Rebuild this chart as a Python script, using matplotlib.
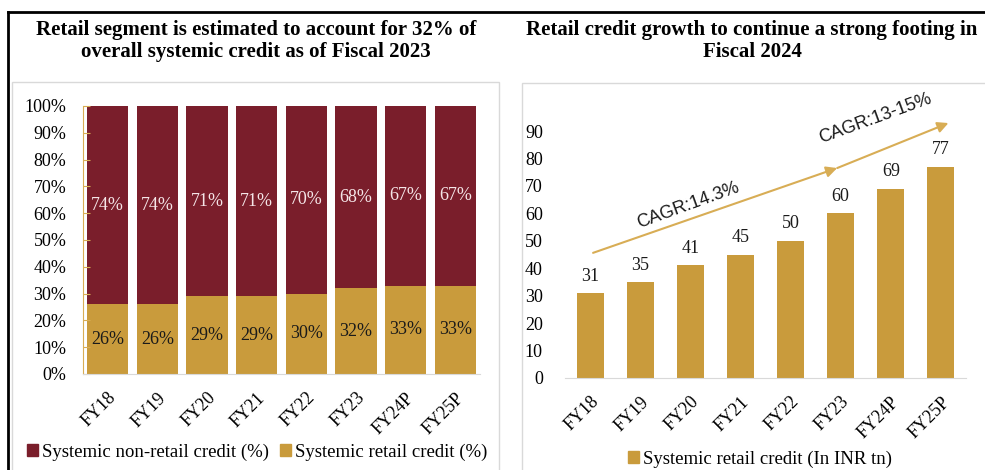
import numpy as np
import matplotlib.pyplot as plt
from matplotlib.patches import Patch, Rectangle
from matplotlib.lines import Line2D

plt.rcParams.update({'font.family': 'Liberation Serif', 'font.size': 13})

# data
years = ['FY18', 'FY19', 'FY20', 'FY21', 'FY22', 'FY23', 'FY24P', 'FY25P']
retail_share = [26, 26, 29, 29, 30, 32, 33, 33]
nonretail_share = [74, 74, 71, 71, 70, 68, 67, 67]
retail_credit = [31, 35, 41, 45, 50, 60, 69, 77]
pct_ticks = [0, 10, 20, 30, 40, 50, 60, 70, 80, 90, 100]
inr_ticks = [0, 10, 20, 30, 40, 50, 60, 70, 80, 90]
cagr_labels = ['CAGR:14.3%', 'CAGR:13-15%']

maroon = '#7A1E2B'
gold = '#C99B3C'
arrow_gold = '#D8AD55'
grey = '#D9D9D9'

W, H = 985, 470
fig = plt.figure(figsize=(W/100., H/100.), dpi=100)

def px_rect(x0, y0, x1, y1):
    # pixel box (origin top-left) -> figure fraction [l, b, w, h]
    return [x0/W, 1-y1/H, (x1-x0)/W, (y1-y0)/H]

def fx(x): return x/W
def fy(y): return 1-y/H

# outer frame lines and light grey chart boxes
fig.add_artist(Line2D([fx(8), fx(985)], [fy(12), fy(12)], color='k', lw=2))
fig.add_artist(Line2D([fx(8), fx(8)], [fy(12), fy(470)], color='k', lw=2))
for box in [(12, 82, 499, 475), (522, 83, 990, 475)]:
    l, b, w, h = px_rect(*box)
    fig.add_artist(Rectangle((l, b), w, h, transform=fig.transFigure,
                             fill=False, edgecolor=grey, lw=1))

# titles
fig.text(fx(256), fy(41), 'Retail segment is estimated to account for 32% of\noverall systemic credit as of Fiscal 2023',
         ha='center', va='center', fontsize=15, fontweight='bold', linespacing=1.15)
fig.text(fx(752), fy(41), 'Retail credit growth to continue a strong footing in\nFiscal 2024',
         ha='center', va='center', fontsize=15, fontweight='bold', linespacing=1.15)

x = np.arange(len(years))

# ---- left: share of systemic credit (stacked 100%)
ax1 = fig.add_axes(px_rect(83, 106, 480, 374))
b_ret = ax1.bar(x, retail_share, width=0.83, color=gold)
b_non = ax1.bar(x, nonretail_share, width=0.83, bottom=retail_share, color=maroon)
ax1.bar_label(b_ret, labels=['%d%%' % v for v in retail_share], label_type='center', color='#1a1a1a')
ax1.bar_label(b_non, labels=['%d%%' % v for v in nonretail_share], label_type='center', color='#F5E6E8')
ax1.set_xlim(-0.5, len(years)-0.5)
ax1.set_ylim(0, 100)
ax1.set_yticks(pct_ticks)
ax1.set_yticklabels(['%d%%' % t for t in pct_ticks])
ax1.set_xticks(x)
ax1.set_xticklabels(years, rotation=45, ha='right', rotation_mode='anchor')
ax1.tick_params(axis='x', length=0, pad=11)
ax1.tick_params(axis='y', direction='in', length=5, color=arrow_gold, pad=12)
for s in ['top', 'right']:
    ax1.spines[s].set_visible(False)
ax1.spines['left'].set_color(arrow_gold)
ax1.spines['bottom'].set_color(grey)

fig.legend(handles=[Patch(color=maroon, label='Systemic non-retail credit (%)'),
                    Patch(color=gold, label='Systemic retail credit (%)')],
           loc='center', bbox_to_anchor=(fx(257), fy(452)), ncol=2, frameon=False,
           handlelength=0.6, handleheight=0.6, handletextpad=0.2, columnspacing=0.6,
           fontsize=13.5)

# ---- right: systemic retail credit in INR tn
ax2 = fig.add_axes(px_rect(565, 131, 966, 378))
b2 = ax2.bar(x, retail_credit, width=0.54, color=gold)
ax2.bar_label(b2, labels=['%d' % v for v in retail_credit], padding=6, color='#1a1a1a')
ax2.set_xlim(-0.5, len(years)-0.5)
ax2.set_ylim(0, 90)
ax2.set_yticks(inr_ticks)
ax2.set_xticks(x)
ax2.set_xticklabels(years, rotation=45, ha='right', rotation_mode='anchor')
ax2.tick_params(axis='x', length=0, pad=11)
ax2.tick_params(axis='y', length=0, pad=16)
for s in ['top', 'right', 'left']:
    ax2.spines[s].set_visible(False)
ax2.spines['bottom'].set_color(grey)

# CAGR arrows
ax2.annotate('', xy=(4.93, 76.5), xytext=(0.06, 45.6), annotation_clip=False,
             arrowprops=dict(arrowstyle='-|>', color=arrow_gold, lw=1.5, mutation_scale=16,
                             shrinkA=0, shrinkB=0))
ax2.annotate('', xy=(7.15, 92.9), xytext=(4.93, 76.5), annotation_clip=False,
             arrowprops=dict(arrowstyle='-|>', color=arrow_gold, lw=1.5, mutation_scale=16,
                             shrinkA=0, shrinkB=0))
ax2.text(1.96, 63, cagr_labels[0], rotation=20, ha='center', va='center',
         family='Liberation Sans', fontsize=13, color='#1a1a1a', clip_on=False)
ax2.text(5.69, 94.7, cagr_labels[1], rotation=20, ha='center', va='center',
         family='Liberation Sans', fontsize=13, color='#1a1a1a', clip_on=False)

fig.legend(handles=[Patch(color=gold, label='Systemic retail credit (In INR tn)')],
           loc='center', bbox_to_anchor=(fx(760), fy(459)), frameon=False,
           handlelength=0.6, handleheight=0.6, handletextpad=0.2, fontsize=13.5)

plt.savefig('out.png', dpi=100)
plt.close()
